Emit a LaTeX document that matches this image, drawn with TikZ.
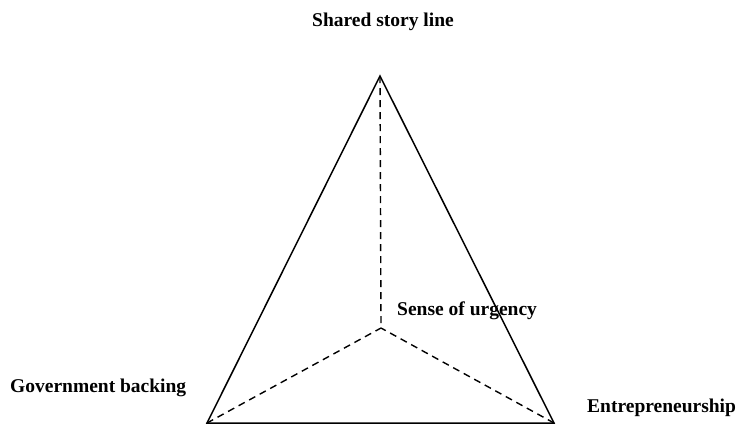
\documentclass[tikz,border=0pt]{standalone}
\usepackage{fontspec}
\setmainfont{Liberation Serif}
\begin{document}
\begin{tikzpicture}[x=1pt,y=-1pt,
  lbl/.style={font=\fontsize{19.5}{22}\selectfont\bfseries, inner sep=0pt, anchor=base west},
  edge/.style={line width=1.5pt, line join=miter},
  hidden/.style={line width=1.4pt, dash pattern=on 7pt off 5pt}]
\useasboundingbox (0,0) rectangle (737,424);
\coordinate (A) at (380,76);
\coordinate (L) at (207,423);
\coordinate (R) at (554,423);
\coordinate (C) at (381,328);
\draw[edge] (A) -- (L) -- (R) -- cycle;
\draw[hidden] (A) -- (C);
\draw[hidden] (L) -- (C);
\draw[hidden] (R) -- (C);
\node[lbl] (top) at (312,26) {Shared story line};
\node[lbl] (mid) at (397,315) {Sense of urgency};
\node[lbl] (left) at (10,392) {Government backing};
\node[lbl] (right) at (587,412) {Entrepreneurship};
\end{tikzpicture}
\end{document}
